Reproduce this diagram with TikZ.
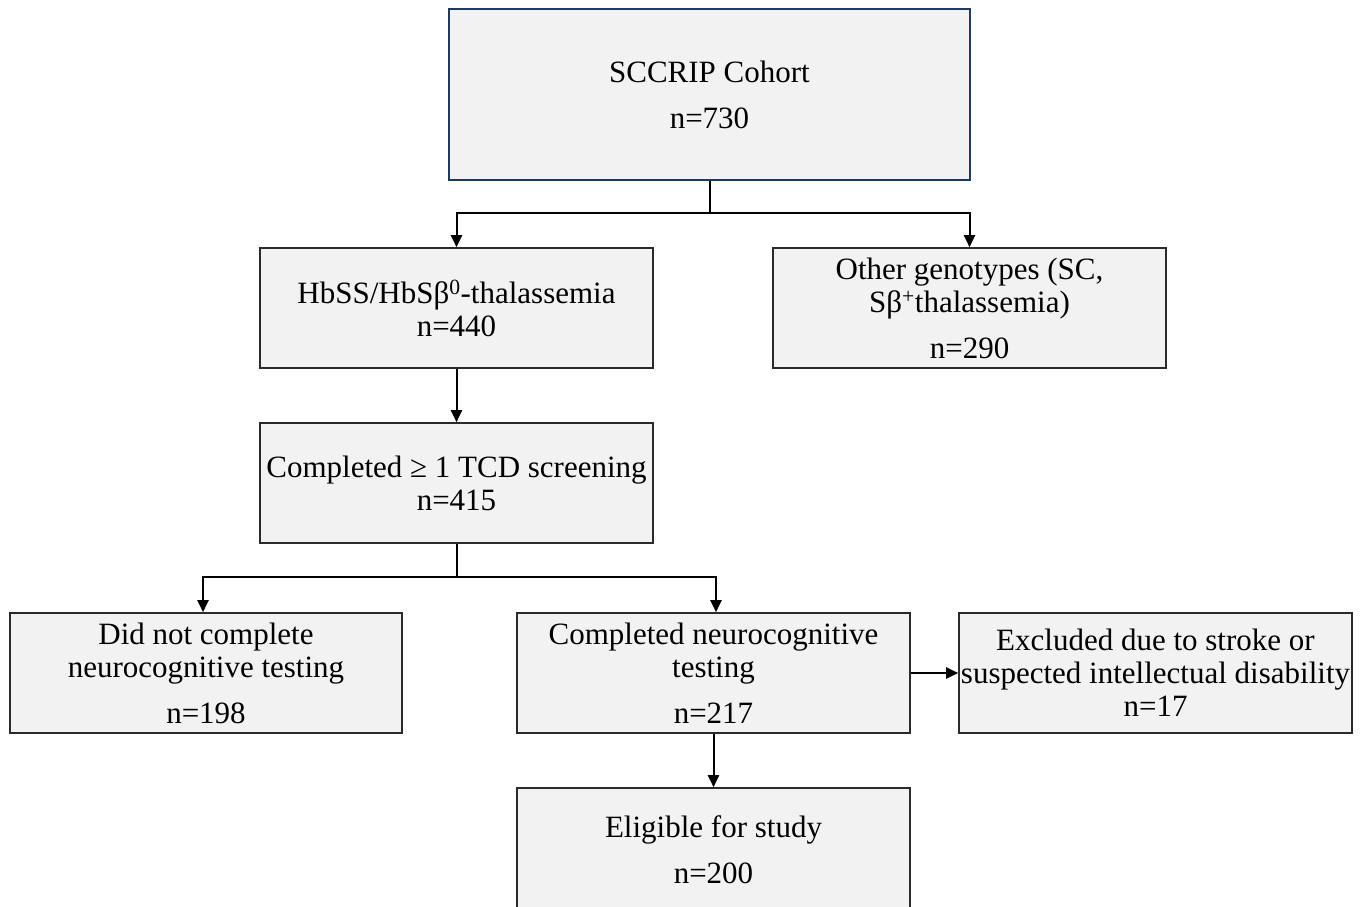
\documentclass[tikz,border=0pt]{standalone}
\usepackage{fontspec}
\setmainfont{Liberation Serif}
\usetikzlibrary{arrows.meta}
\definecolor{boxfill}{HTML}{F2F2F2}
\definecolor{topborder}{HTML}{1F3A5F}
\definecolor{edge}{HTML}{2B2B2B}
\tikzset{
  flowbox/.style={draw=edge, fill=boxfill, line width=1.6pt, inner sep=0pt, align=center,
    font=\fontsize{31}{33}\selectfont, text=black},
  topbox/.style={flowbox, draw=topborder},
  conn/.style={line width=2pt, draw=black},
  arr/.style={conn, -{Triangle[length=12pt,width=11pt]}}
}
\begin{document}
\begin{tikzpicture}[x=1pt,y=1pt]
\clip (0,0) rectangle (1366,-906);
\fill[white] (0,0) rectangle (1366,-906);
% boxes
\node[topbox, minimum width=521pt, minimum height=171pt] (cohort) at (709.5,-94.5)
  {SCCRIP Cohort\\[13pt]n=730};
\node[flowbox, minimum width=393pt, minimum height=120pt] (hbss) at (456.5,-308)
  {HbSS/HbSβ\textsuperscript{0}-thalassemia\\n=440};
\node[flowbox, minimum width=393pt, minimum height=120pt] (other) at (969.5,-308)
  {Other genotypes (SC,\\Sβ\textsuperscript{+}thalassemia)\\[13pt]n=290};
\node[flowbox, minimum width=393pt, minimum height=120pt] (tcd) at (456.5,-483)
  {Completed ≥ 1 TCD screening\\n=415};
\node[flowbox, minimum width=392pt, minimum height=120pt] (notneuro) at (206,-673)
  {Did not complete\\neurocognitive testing\\[13pt]n=198};
\node[flowbox, minimum width=393pt, minimum height=120pt] (neuro) at (713.5,-673)
  {Completed neurocognitive\\testing\\[13pt]n=217};
\node[flowbox, minimum width=393pt, minimum height=120pt] (excl) at (1155.5,-673)
  {Excluded due to stroke or\\suspected intellectual disability\\n=17};
\node[flowbox, minimum width=393pt, minimum height=124pt] (elig) at (713.5,-850)
  {Eligible for study\\[13pt]n=200};
% connectors
\coordinate (j1) at (709.5,-213);
\coordinate (j1l) at (456.5,-213);
\coordinate (j1r) at (969.5,-213);
\draw[conn] (cohort.south) -- (j1);
\draw[arr] (j1) -- (j1l) -- (hbss.north);
\draw[arr] (j1) -- (j1r) -- (other.north);
\draw[arr] (hbss.south) -- (tcd.north);
\coordinate (j2) at (456.5,-577);
\coordinate (j2l) at (203,-577);
\coordinate (j2r) at (716,-577);
\draw[conn] (tcd.south) -- (j2);
\draw[arr] (j2) -- (j2l) -- (j2l |- notneuro.north);
\draw[arr] (j2) -- (j2r) -- (j2r |- neuro.north);
\draw[arr] (neuro.east) -- (excl.west);
\draw[arr] (neuro.south) -- (elig.north);
\end{tikzpicture}
\end{document}
